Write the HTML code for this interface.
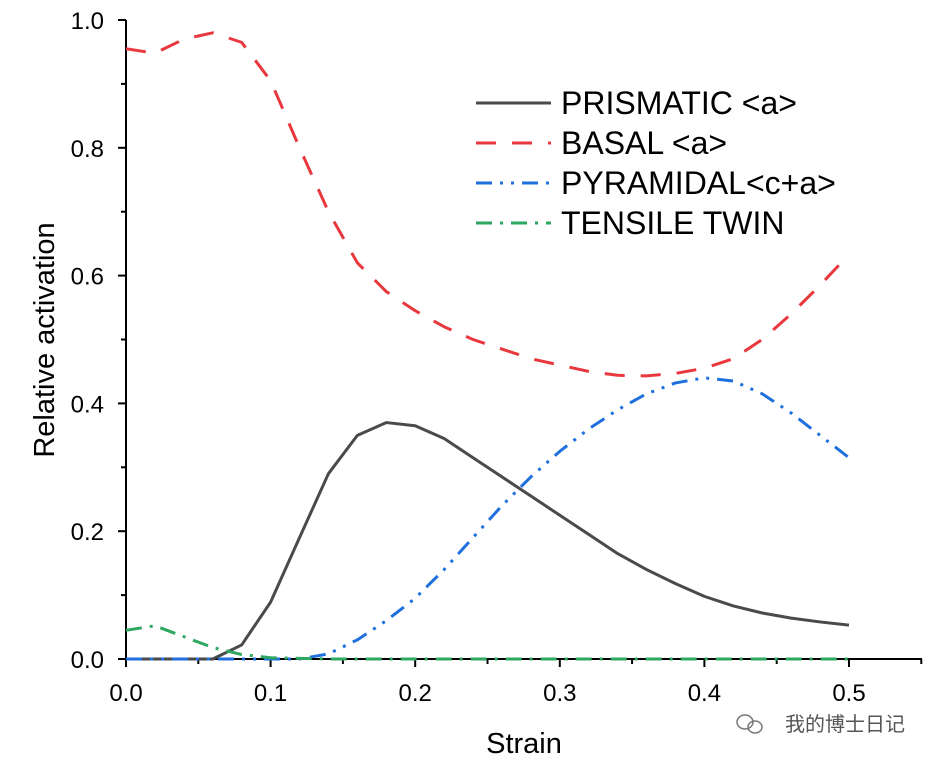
<!DOCTYPE html>
<html><head><meta charset="utf-8"><style>
body{margin:0;background:#fff;}
svg{display:block;font-family:"Liberation Sans","Noto Sans CJK SC",sans-serif;}
</style></head><body>
<svg id="chart" width="934" height="766">
<g id="axes"></g>
<g id="series"></g>
<g id="legend"></g>
<text x="524" y="753" font-size="29" text-anchor="middle">Strain</text>
<text transform="translate(54,340) rotate(-90)" font-size="29" text-anchor="middle">Relative activation</text>
<text x="905" y="731" font-size="20" text-anchor="end" fill="#555">我的博士日记</text>
<g fill="none" stroke="#777" stroke-width="1.5"><ellipse cx="745" cy="722" rx="8" ry="7"/><ellipse cx="755" cy="727" rx="7" ry="6"/></g>
</svg>
<script>
const xs=[0,0.02,0.04,0.06,0.08,0.1,0.12,0.14,0.16,0.18,0.2,0.22,0.24,0.26,0.28,0.3,0.32,0.34,0.36,0.38,0.4,0.42,0.44,0.46,0.48,0.5];
const prismatic=[0,0,0,0,0.022,0.089,0.19,0.29,0.35,0.37,0.365,0.345,0.315,0.285,0.255,0.225,0.195,0.165,0.14,0.118,0.098,0.083,0.072,0.064,0.058,0.053];
const basal=[0.955,0.948,0.97,0.98,0.965,0.905,0.8,0.7,0.62,0.575,0.545,0.52,0.5,0.485,0.47,0.46,0.45,0.444,0.443,0.447,0.455,0.47,0.5,0.54,0.585,0.633];
const pyramidal=[0,0,0,0,0,0,0,0.008,0.03,0.06,0.095,0.14,0.19,0.24,0.285,0.325,0.36,0.39,0.415,0.432,0.44,0.435,0.415,0.385,0.35,0.315];
const tensile=[0.045,0.052,0.035,0.018,0.007,0.002,0.001,0,0,0,0,0,0,0,0,0,0,0,0,0,0,0,0,0,0,0];
const xTicks=[0,0.1,0.2,0.3,0.4,0.5];
const xTickLabels=["0.0","0.1","0.2","0.3","0.4","0.5"];
const yTicks=[0,0.2,0.4,0.6,0.8,1.0];
const yTickLabels=["0.0","0.2","0.4","0.6","0.8","1.0"];
const seriesNames=["PRISMATIC <a>","BASAL <a>","PYRAMIDAL<c+a>","TENSILE TWIN"];

const NS="http://www.w3.org/2000/svg";
const X=v=>126+v*1446, Y=v=>659-v*639;
function mk(tag,attrs,parent){const e=document.createElementNS(NS,tag);for(const k in attrs)e.setAttribute(k,attrs[k]);parent.appendChild(e);return e;}
const axes=document.getElementById('axes');
let e=mk('line',{x1:126,y1:659,x2:922,y2:659,stroke:'#000','stroke-width':2},axes);


e=mk('line',{x1:126,y1:20,x2:126,y2:660,stroke:'#000','stroke-width':2},axes);


for(let v=0;v<=0.551;v+=0.05){const major=Math.abs(v*10-Math.round(v*10))<1e-6;mk('line',{x1:X(v),y1:659,x2:X(v),y2:659+(major?8:5),stroke:'#000','stroke-width':2},axes);}
for(let v=0;v<=1.001;v+=0.1){const major=Math.round(v*10)%2===0;mk('line',{x1:126,y1:Y(v),x2:126-(major?8:5),y2:Y(v),stroke:'#000','stroke-width':2},axes);}
xTicks.forEach((v,i)=>{const t=mk('text',{x:X(v),y:701,'font-size':24,'text-anchor':'middle'},axes);t.textContent=xTickLabels[i];

});
yTicks.forEach((v,i)=>{const t=mk('text',{x:104,y:Y(v)+9,'font-size':24,'text-anchor':'end'},axes);t.textContent=yTickLabels[i];

});
const styles=[{c:'#4a4a4a',d:''},{c:'#e8383d',d:'20 16'},{c:'#1f6fde',d:'16 8 3 8 3 8'},{c:'#2ea860',d:'16 8 3 8'}];
const data=[prismatic,basal,pyramidal,tensile];
const sg=document.getElementById('series');
const names=['prismatic-line','basal-line','pyramidal-line','tensile-twin-line'];
data.forEach((arr,i)=>{const p=mk('polyline',{points:xs.map((x,j)=>X(x)+','+Y(arr[j])).join(' '),fill:'none',stroke:styles[i].c,'stroke-width':3,'stroke-dasharray':styles[i].d,'stroke-linejoin':'round'},sg);

});
const lg=document.getElementById('legend');
seriesNames.forEach((n,i)=>{const y=103+i*40;
const l=mk('line',{x1:476,y1:y,x2:551,y2:y,stroke:styles[i].c,'stroke-width':3,'stroke-dasharray':styles[i].d},lg);


const t=mk('text',{x:561,y:y+11,'font-size':32},lg);t.textContent=n;

});
</script>
</body></html>
